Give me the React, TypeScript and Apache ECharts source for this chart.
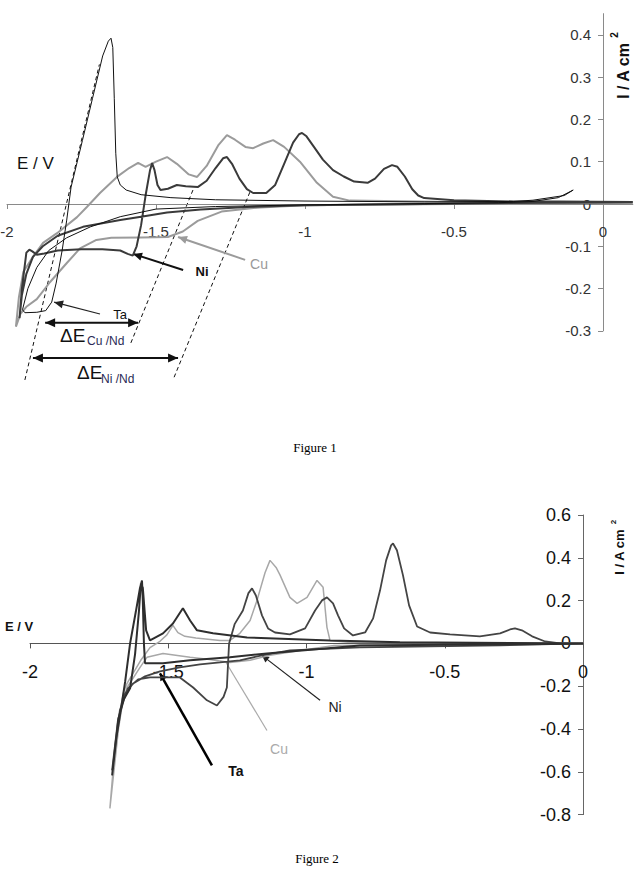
import React, { useEffect, useRef } from "react";
import * as echarts from "echarts";

// ---------- tick values ----------
const xTicks = [-2, -1.5, -1, -0.5, 0];
const fig1YTicks = [-0.3, -0.2, -0.1, 0, 0.1, 0.2, 0.3, 0.4];
const fig2YTicks = [-0.8, -0.6, -0.4, -0.2, 0, 0.2, 0.4, 0.6];

// ---------- Figure 1 curves [E / V, I / A cm^-2] ----------
const fig1Cu = [
  [0.1, 0.003], [-0.5, 0.0], [-1.0, -0.003], [-1.15, -0.008], [-1.28, -0.018], [-1.36, -0.04],
  [-1.41, -0.065], [-1.46, -0.078], [-1.55, -0.079], [-1.65, -0.08], [-1.7, -0.085], [-1.755, -0.105],
  [-1.8, -0.14], [-1.856, -0.185], [-1.9, -0.225], [-1.935, -0.243], [-1.955, -0.26], [-1.97, -0.29],
  [-1.96, -0.22], [-1.945, -0.16], [-1.913, -0.125], [-1.879, -0.092], [-1.832, -0.069], [-1.765, -0.031],
  [-1.732, -0.007], [-1.688, 0.026], [-1.631, 0.064], [-1.59, 0.085], [-1.56, 0.097], [-1.535, 0.088],
  [-1.5, 0.1], [-1.463, 0.111], [-1.43, 0.095], [-1.39, 0.07], [-1.362, 0.064], [-1.33, 0.09],
  [-1.29, 0.14], [-1.262, 0.163], [-1.235, 0.152], [-1.2, 0.135], [-1.174, 0.132], [-1.14, 0.143],
  [-1.107, 0.151], [-1.07, 0.135], [-1.017, 0.1], [-0.96, 0.05], [-0.906, 0.017], [-0.85, 0.008],
  [-0.5, 0.005], [0.1, 0.004],
];
const fig1Ni = [
  [0.1, 0.004], [-0.2, 0.003], [-0.6, 0.0], [-1.0, -0.003], [-1.195, -0.007], [-1.35, -0.013],
  [-1.463, -0.02], [-1.55, -0.03], [-1.62, -0.038], [-1.745, -0.054], [-1.83, -0.075], [-1.88, -0.1],
  [-1.913, -0.125], [-1.935, -0.165], [-1.95, -0.215], [-1.958, -0.27], [-1.95, -0.2], [-1.935, -0.115],
  [-1.925, -0.108], [-1.915, -0.112], [-1.9, -0.12], [-1.875, -0.117], [-1.83, -0.11], [-1.75, -0.107],
  [-1.68, -0.107], [-1.62, -0.11], [-1.595, -0.118], [-1.578, -0.122], [-1.565, -0.1], [-1.55, -0.05],
  [-1.535, 0.02], [-1.52, 0.08], [-1.513, 0.097], [-1.505, 0.08], [-1.495, 0.045], [-1.485, 0.033],
  [-1.46, 0.036], [-1.43, 0.045], [-1.4, 0.042], [-1.36, 0.04], [-1.33, 0.055], [-1.3, 0.085],
  [-1.275, 0.108], [-1.262, 0.111], [-1.245, 0.095], [-1.22, 0.06], [-1.195, 0.035], [-1.174, 0.026],
  [-1.13, 0.026], [-1.1, 0.045], [-1.07, 0.095], [-1.04, 0.145], [-1.02, 0.165], [-1.01, 0.168],
  [-0.995, 0.16], [-0.97, 0.135], [-0.94, 0.105], [-0.906, 0.08], [-0.87, 0.065], [-0.835, 0.053],
  [-0.79, 0.05], [-0.765, 0.06], [-0.735, 0.083], [-0.708, 0.092], [-0.69, 0.088], [-0.665, 0.065],
  [-0.64, 0.035], [-0.62, 0.02], [-0.6, 0.014], [-0.5, 0.009], [-0.3, 0.006], [-0.15, 0.006], [0.1, 0.005],
];
const fig1Ta = [
  [-0.1, 0.033], [-0.15, 0.015], [-0.235, 0.006], [-0.35, 0.003], [-0.6, 0.001], [-1.0, -0.002],
  [-1.3, -0.006], [-1.5, -0.012], [-1.62, -0.03], [-1.72, -0.054], [-1.8, -0.08], [-1.86, -0.11],
  [-1.9, -0.15], [-1.93, -0.2], [-1.948, -0.25], [-1.94, -0.257], [-1.9, -0.256], [-1.87, -0.252],
  [-1.85, -0.232], [-1.835, -0.187], [-1.815, -0.11], [-1.8, -0.04], [-1.785, 0.04], [-1.747, 0.15],
  [-1.713, 0.25], [-1.679, 0.35], [-1.66, 0.385], [-1.651, 0.392], [-1.645, 0.37], [-1.64, 0.25],
  [-1.635, 0.12], [-1.63, 0.064], [-1.62, 0.045], [-1.6, 0.033], [-1.55, 0.022], [-1.45, 0.015],
  [-1.3, 0.01], [-1.0, 0.007], [-0.6, 0.005], [-0.3, 0.006], [-0.235, 0.009], [-0.13, 0.02], [-0.1, 0.033],
];

// ---------- Figure 2 curves ----------
const fig2Cu = [
  [0, 0.0], [-0.5, -0.005], [-0.9, -0.01], [-1.024, -0.033], [-1.132, -0.056], [-1.204, -0.079],
  [-1.277, -0.089], [-1.35, -0.075], [-1.421, -0.065], [-1.519, -0.047], [-1.577, -0.065], [-1.602, -0.112],
  [-1.649, -0.206], [-1.664, -0.266], [-1.68, -0.4], [-1.695, -0.58], [-1.711, -0.771],
  [-1.7, -0.6], [-1.689, -0.45], [-1.675, -0.32], [-1.66, -0.22], [-1.649, -0.187], [-1.6, -0.08],
  [-1.566, -0.02], [-1.53, 0.01], [-1.505, 0.04], [-1.483, 0.084], [-1.465, 0.05], [-1.44, 0.033],
  [-1.4, 0.025], [-1.313, 0.014], [-1.277, 0.014], [-1.241, 0.047], [-1.204, 0.107], [-1.179, 0.201],
  [-1.15, 0.33], [-1.132, 0.388], [-1.11, 0.355], [-1.096, 0.32], [-1.06, 0.215], [-1.034, 0.187],
  [-0.998, 0.215], [-0.962, 0.294], [-0.94, 0.262], [-0.926, 0.075], [-0.915, 0.014], [-0.85, 0.005],
  [-0.5, 0.003], [0, 0.002],
];
const fig2Ni = [
  [0, 0.0], [-0.3, -0.009], [-0.553, -0.014], [-0.807, -0.019], [-1.06, -0.033], [-1.161, -0.056],
  [-1.241, -0.079], [-1.313, -0.089], [-1.385, -0.098], [-1.458, -0.112], [-1.53, -0.131], [-1.584, -0.154],
  [-1.627, -0.187], [-1.656, -0.234], [-1.682, -0.36], [-1.703, -0.593], [-1.675, -0.313], [-1.646, -0.21],
  [-1.609, -0.168], [-1.566, -0.159], [-1.458, -0.159], [-1.41, -0.206], [-1.36, -0.266], [-1.324, -0.29],
  [-1.3, -0.25], [-1.288, -0.206], [-1.284, -0.1], [-1.28, 0.0], [-1.26, 0.09], [-1.23, 0.154],
  [-1.21, 0.235], [-1.197, 0.257], [-1.183, 0.224], [-1.161, 0.131], [-1.139, 0.07], [-1.114, 0.051],
  [-1.06, 0.042], [-1.005, 0.07], [-0.969, 0.154], [-0.944, 0.201], [-0.926, 0.215], [-0.904, 0.187],
  [-0.886, 0.131], [-0.864, 0.07], [-0.832, 0.037], [-0.788, 0.051], [-0.759, 0.117], [-0.734, 0.248],
  [-0.712, 0.388], [-0.694, 0.458], [-0.687, 0.467], [-0.673, 0.435], [-0.651, 0.318], [-0.629, 0.178],
  [-0.6, 0.079], [-0.553, 0.051], [-0.481, 0.042], [-0.373, 0.033], [-0.3, 0.047], [-0.264, 0.065],
  [-0.246, 0.07], [-0.221, 0.061], [-0.184, 0.033], [-0.137, 0.009], [-0.083, 0.0], [0, 0.0],
];
const fig2Ta = [
  [0, -0.002], [-0.4, -0.005], [-0.807, -0.01], [-1.143, -0.047], [-1.277, -0.065], [-1.421, -0.079],
  [-1.519, -0.093], [-1.584, -0.093], [-1.588, 0.0], [-1.592, 0.2], [-1.595, 0.294], [-1.602, 0.26],
  [-1.617, 0.15], [-1.638, 0.0], [-1.656, -0.18], [-1.675, -0.34], [-1.689, -0.45], [-1.703, -0.617],
  [-1.68, -0.35], [-1.66, -0.26], [-1.638, -0.21], [-1.62, -0.05], [-1.606, 0.15], [-1.599, 0.28],
  [-1.592, 0.26], [-1.58, 0.061], [-1.566, 0.014], [-1.519, 0.047], [-1.483, 0.093], [-1.447, 0.164],
  [-1.421, 0.107], [-1.396, 0.061], [-1.338, 0.047], [-1.215, 0.028], [-0.915, 0.014], [-0.662, 0.005],
  [0, 0.0],
];

// ---------- annotation geometry (data units) ----------
const fig1Tangents = [
  [[-1.94, -0.416], [-1.69, 0.33]],
  [[-1.376, 0.033], [-1.587, -0.333]],
  [[-1.185, 0.028], [-1.443, -0.416]],
];
const fig1DeltaArrows = [
  [[-1.872, -0.281], [-1.56, -0.281]],
  [[-1.913, -0.364], [-1.426, -0.364]],
];
const fig1Pointers = [
  [[-1.688, -0.26], [-1.842, -0.232]], // Ta
  [[-1.409, -0.156], [-1.577, -0.118]], // Ni
  [[-1.201, -0.132], [-1.426, -0.078]], // Cu
];
const fig2Pointers = [
  [[-0.951, -0.266], [-1.161, -0.056]], // Ni
  [[-1.143, -0.407], [-1.291, -0.089]], // Cu
  [[-1.342, -0.57], [-1.53, -0.14]], // Ta
];

const FONT = "Liberation Sans, Arial, Helvetica, sans-serif";

const fmt = (v: number) => {
  const r = Math.round(v * 10) / 10;
  return Math.abs(r) < 1e-9 ? "0" : String(r);
};

function arrowHead(tip: number[], tail: number[], len: number, half: number, color: string) {
  const dx = tip[0] - tail[0];
  const dy = tip[1] - tail[1];
  const d = Math.hypot(dx, dy) || 1;
  const ux = dx / d;
  const uy = dy / d;
  const bx = tip[0] - ux * len;
  const by = tip[1] - uy * len;
  return {
    type: "polygon",
    silent: true,
    shape: {
      points: [
        [tip[0], tip[1]],
        [bx - uy * half, by + ux * half],
        [bx + uy * half, by - ux * half],
      ],
    },
    style: { fill: color },
  };
}

function seg(a: number[], b: number[], stroke: string, lineWidth: number, dash?: number[]) {
  return {
    type: "line",
    silent: true,
    shape: { x1: a[0], y1: a[1], x2: b[0], y2: b[1] },
    style: { stroke, lineWidth, lineDash: dash || null },
  };
}

function txt(text: string, x: number, y: number, size: number, fill: string, extra: any = {}) {
  return {
    type: "text",
    silent: true,
    x,
    y,
    rotation: extra.rotation || 0,
    style: {
      text,
      fontSize: size,
      fontFamily: extra.family || FONT,
      fontWeight: extra.weight || "normal",
      fill,
      align: extra.align || "center",
      verticalAlign: "middle",
    },
  };
}

// grid geometry
const G1 = { left: 7, top: 13.65, width: 625.8, height: 317.25 };
const G2 = { left: 30, top: 515, width: 553, height: 299.6 };

export default function App() {
  const ref = useRef<HTMLDivElement>(null);

  useEffect(() => {
    if (!ref.current) return;
    const chart = echarts.init(ref.current, null, { renderer: "svg" });

    const xAxisBase = (gridIndex: number, max: number, offset: number, color: string, size: number, labelColor: string) => ({
      type: "value",
      gridIndex,
      position: "bottom",
      offset,
      min: -2,
      max,
      interval: 0.5,
      axisLine: { onZero: false, lineStyle: { color, width: 1 } },
      axisTick: { show: true, length: 5, inside: false, lineStyle: { color }, customValues: xTicks },
      axisLabel: {
        customValues: xTicks,
        formatter: fmt,
        fontSize: size,
        fontFamily: FONT,
        color: labelColor,
        margin: 20,
      },
      splitLine: { show: false },
    });
    const yAxisBase = (gridIndex: number, min: number, max: number, offset: number, ticks: number[], color: string, size: number, labelColor: string, interval: number) => ({
      type: "value",
      gridIndex,
      position: "left",
      offset,
      min,
      max,
      interval,
      axisLine: { show: true, onZero: false, lineStyle: { color, width: 1 } },
      axisTick: { show: true, length: 5, inside: false, lineStyle: { color }, customValues: ticks },
      axisLabel: {
        customValues: ticks,
        formatter: fmt,
        fontSize: size,
        fontFamily: FONT,
        color: labelColor,
        margin: 12,
      },
      splitLine: { show: false },
    });

    const line = (data: number[][], idx: number, color: string, width: number, z: number) => ({
      type: "line",
      xAxisIndex: idx,
      yAxisIndex: idx,
      data,
      showSymbol: false,
      symbol: "none",
      silent: true,
      z,
      lineStyle: { color, width },
    });

    // offsets that put each axis line on the other axis' zero
    const x1Off = -G1.height * (0.3 / 0.75);
    const y1Off = -G1.width * (2 / 2.1);
    const x2Off = -G2.height * (0.8 / 1.4);
    const y2Off = -G2.width;

    chart.setOption({
      animation: false,
      backgroundColor: "#ffffff",
      grid: [
        { ...G1, outerBoundsMode: "none", containLabel: false },
        { ...G2, outerBoundsMode: "none", containLabel: false },
      ],
      xAxis: [xAxisBase(0, 0.1, x1Off, "#8a8a8a", 15, "#333"), xAxisBase(1, 0, x2Off, "#555", 18, "#111")],
      yAxis: [
        yAxisBase(0, -0.3, 0.45, y1Off, fig1YTicks, "#8a8a8a", 15, "#333", 0.1),
        yAxisBase(1, -0.8, 0.6, y2Off, fig2YTicks, "#666", 18, "#111", 0.2),
      ],
      series: [
        line(fig1Cu, 0, "#9b9b9b", 2, 2),
        line(fig1Ni, 0, "#3a3a3a", 2, 3),
        line(fig1Ta, 0, "#111111", 1, 4),
        line(fig2Cu, 1, "#a8a8a8", 1.5, 2),
        line(fig2Ni, 1, "#444444", 1.8, 3),
        line(fig2Ta, 1, "#2e2e2e", 2, 4),
      ],
    });

    const p = (g: number, pt: number[]) => chart.convertToPixel({ gridIndex: g } as any, pt) as number[];
    const els: any[] = [];

    // figure 1 dashed tangents
    fig1Tangents.forEach(([a, b]) => els.push(seg(p(0, a), p(0, b), "#111", 1, [4, 3])));
    // figure 1 double arrows
    fig1DeltaArrows.forEach(([a, b]) => {
      const A = p(0, a);
      const B = p(0, b);
      els.push(seg(A, B, "#111", 2));
      els.push(arrowHead(A, B, 10, 4.5, "#111"));
      els.push(arrowHead(B, A, 10, 4.5, "#111"));
    });
    // figure 1 pointer arrows
    const f1Styles = [
      { c: "#222", w: 1.2 },
      { c: "#111", w: 2 },
      { c: "#9b9b9b", w: 2 },
    ];
    fig1Pointers.forEach(([a, b], i) => {
      const A = p(0, a);
      const B = p(0, b);
      els.push(seg(A, B, f1Styles[i].c, f1Styles[i].w));
      els.push(arrowHead(B, A, 9, 4, f1Styles[i].c));
    });
    // figure 2 pointers
    const f2Styles = [
      { c: "#222", w: 1.2, head: true },
      { c: "#aaaaaa", w: 1.2, head: false },
      { c: "#000", w: 2.5, head: true },
    ];
    fig2Pointers.forEach(([a, b], i) => {
      const A = p(1, a);
      const B = p(1, b);
      els.push(seg(A, B, f2Styles[i].c, f2Styles[i].w));
      if (f2Styles[i].head) els.push(arrowHead(B, A, 7, 3.5, f2Styles[i].c));
    });

    // texts figure 1
    els.push(txt("E / V", 17, 163, 17, "#111", { align: "left" }));
    els.push(txt("I / A cm", 623, 71, 16, "#111", { weight: "bold", rotation: Math.PI / 2 }));
    els.push(txt("2", 614, 35, 10, "#111", { weight: "bold", rotation: Math.PI / 2 }));
    els.push(txt("Ta", 120, 314, 13, "#111"));
    els.push(txt("Ni", 202, 271, 13, "#111", { weight: "bold" }));
    els.push(txt("Cu", 259, 264, 14, "#999"));
    els.push(txt("\u0394E", 60, 335, 19, "#111", { align: "left" }));
    els.push(txt("Cu /Nd", 87, 341, 12, "#2a2a55", { align: "left" }));
    els.push(txt("\u0394E", 77, 372, 19, "#111", { align: "left" }));
    els.push(txt("Ni /Nd", 101, 379, 12, "#2a2a55", { align: "left" }));
    els.push(txt("Figure 1", 315, 447, 13, "#000", { family: "Liberation Serif, Times New Roman, serif" }));

    // texts figure 2
    els.push(txt("E / V", 5, 626, 13, "#111", { align: "left", weight: "bold" }));
    els.push(txt("I / A cm", 619, 552, 13, "#111", { weight: "bold", rotation: Math.PI / 2 }));
    els.push(txt("2", 613, 522, 8, "#111", { weight: "bold", rotation: Math.PI / 2 }));
    els.push(txt("Ni", 335, 707, 14, "#222"));
    els.push(txt("Cu", 279, 749, 14, "#aaaaaa"));
    els.push(txt("Ta", 236, 771, 14, "#111", { weight: "bold" }));
    els.push(txt("Figure 2", 317, 858, 13, "#000", { family: "Liberation Serif, Times New Roman, serif" }));

    chart.setOption({ graphic: { elements: els } });

    return () => chart.dispose();
  }, []);

  return (
    <div
      ref={ref}
      style={{ position: "absolute", left: 0, top: 0, width: 635, height: 894, background: "#fff" }}
    />
  );
}
